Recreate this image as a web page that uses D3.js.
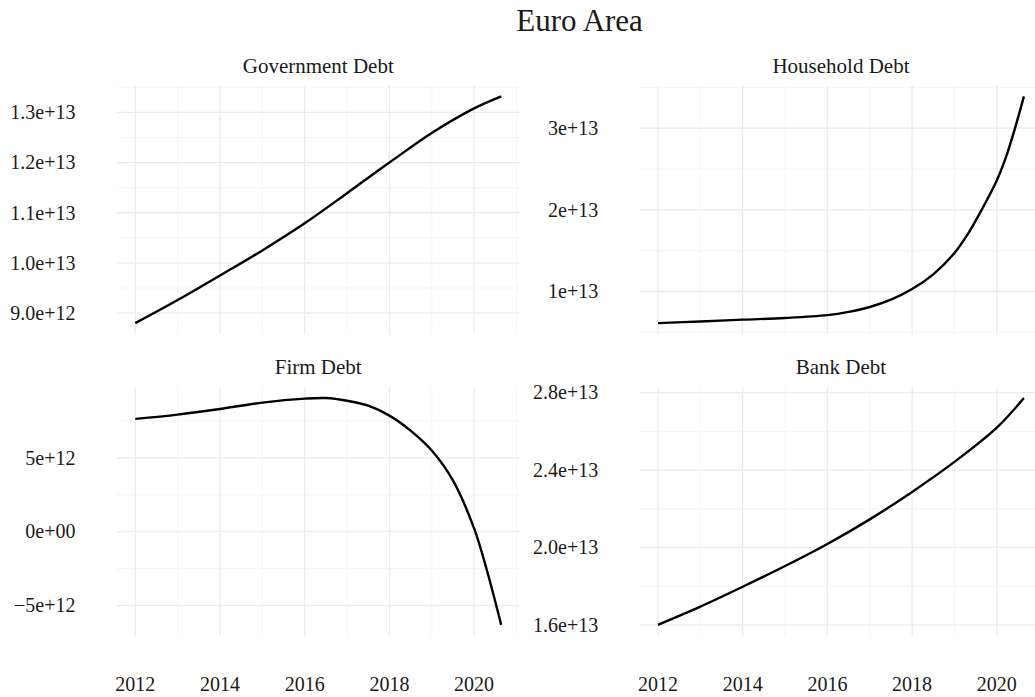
<!DOCTYPE html>
<html>
<head>
<meta charset="utf-8">
<script src="https://cdn.jsdelivr.net/npm/d3@7"></script>
<style>
  body { margin: 0; background: #fff; }
  svg { display: block; overflow: hidden; }
  text { font-family: "Palatino Linotype", Palatino, "Liberation Serif", serif; fill: #1a1a1a; }
</style>
</head>
<body>
<div id="chart"></div>
<script>
const WIDTH = 1035
const HEIGHT = 697

// values (x in years, y in units of debt)
const govYears = [2012, 2013, 2014, 2015, 2016, 2017, 2018, 2019, 2020, 2020.64]
const govValues = [8.80e12, 9.26e12, 9.75e12, 10.25e12, 10.79e12, 11.39e12, 12.00e12, 12.59e12, 13.08e12, 13.32e12]

const houseYears = [2012, 2013, 2014, 2015, 2016, 2016.5, 2017, 2017.5, 2018, 2018.5, 2019, 2019.3, 2019.6, 2020, 2020.2, 2020.43, 2020.64]
const houseValues = [6.12e12, 6.33e12, 6.55e12, 6.75e12, 7.1e12, 7.5e12, 8.1e12, 9.0e12, 10.3e12, 12.1e12, 14.7e12, 16.9e12, 19.6e12, 23.6e12, 26.2e12, 30.0e12, 33.9e12]

const firmYears = [2012, 2013, 2014, 2015, 2016, 2016.5, 2017, 2017.5, 2018, 2018.5, 2019, 2019.5, 2020, 2020.3, 2020.64]
const firmValues = [7.63e12, 7.92e12, 8.30e12, 8.73e12, 9.00e12, 9.04e12, 8.86e12, 8.52e12, 7.85e12, 6.84e12, 5.49e12, 3.47e12, 0.22e12, -2.59e12, -6.30e12]

const bankYears = [2012, 2013, 2014, 2015, 2016, 2017, 2018, 2019, 2020, 2020.64]
const bankValues = [1.600e13, 1.694e13, 1.797e13, 1.904e13, 2.018e13, 2.145e13, 2.287e13, 2.442e13, 2.619e13, 2.772e13]

const xTicks = [2012, 2014, 2016, 2018, 2020]

const govTicks = [9e12, 1e13, 1.1e13, 1.2e13, 1.3e13]
const govLabels = ["9.0e+12", "1.0e+13", "1.1e+13", "1.2e+13", "1.3e+13"]
const houseTicks = [1e13, 2e13, 3e13]
const houseLabels = ["1e+13", "2e+13", "3e+13"]
const firmTicks = [-5e12, 0, 5e12]
const firmLabels = ["\u22125e+12", "0e+00", "5e+12"]
const bankTicks = [1.6e13, 2.0e13, 2.4e13, 2.8e13]
const bankLabels = ["1.6e+13", "2.0e+13", "2.4e+13", "2.8e+13"]

const PANEL_W = 402.5
const PANEL_H = 249.5
const COLS = [117, 639.7]
const ROWS = [85, 386.7]

const panels = [
  { title: "Government Debt", years: govYears, values: govValues, ticks: govTicks, labels: govLabels, col: 0, row: 0 },
  { title: "Household Debt", years: houseYears, values: houseValues, ticks: houseTicks, labels: houseLabels, col: 1, row: 0 },
  { title: "Firm Debt", years: firmYears, values: firmValues, ticks: firmTicks, labels: firmLabels, col: 0, row: 1 },
  { title: "Bank Debt", years: bankYears, values: bankValues, ticks: bankTicks, labels: bankLabels, col: 1, row: 1 }
]

const svg = d3.select("#chart")
              .append("svg")
              .attr("width", WIDTH)
              .attr("height", HEIGHT)

svg.append("text")
   .attr("x", (COLS[0] + COLS[1] + PANEL_W) / 2)
   .attr("y", 30.5)
   .attr("text-anchor", "middle")
   .style("font-size", "31px")
   .text("Euro Area")

// ggplot style 5% expansion
function expand(extent) {
  const pad = (extent[1] - extent[0]) * 0.05
  return [extent[0] - pad, extent[1] + pad]
}

// minor breaks halfway between majors, one step past each end
function minorBreaks(ticks, domain) {
  const step = ticks[1] - ticks[0]
  const out = []
  for (let i = -1; i < ticks.length; i++) {
    out.push(ticks[0] + (i + 0.5) * step)
  }
  return out.filter(v => v >= domain[0] && v <= domain[1])
}

function drawPanel(p) {
  const left = COLS[p.col]
  const top = ROWS[p.row]
  const g = svg.append("g").attr("transform", `translate(${left}, ${top})`)

  const x = d3.scaleLinear()
              .domain(expand(d3.extent(p.years)))
              .range([0, PANEL_W])
  const y = d3.scaleLinear()
              .domain(expand(d3.extent(p.values)))
              .range([PANEL_H, 0])

  const xMinor = minorBreaks(xTicks, x.domain())
  const yMinor = minorBreaks(p.ticks, y.domain())

  g.selectAll(".xminor").data(xMinor).join("line")
   .attr("x1", d => x(d)).attr("x2", d => x(d))
   .attr("y1", 0).attr("y2", PANEL_H)
   .attr("stroke", "#f2f2f2").attr("stroke-width", 0.8)
  g.selectAll(".yminor").data(yMinor).join("line")
   .attr("x1", 0).attr("x2", PANEL_W)
   .attr("y1", d => y(d)).attr("y2", d => y(d))
   .attr("stroke", "#f2f2f2").attr("stroke-width", 0.8)

  g.selectAll(".xmajor").data(xTicks).join("line")
   .attr("x1", d => x(d)).attr("x2", d => x(d))
   .attr("y1", 0).attr("y2", PANEL_H)
   .attr("stroke", "#ebebeb").attr("stroke-width", 1.3)
  g.selectAll(".ymajor").data(p.ticks).join("line")
   .attr("x1", 0).attr("x2", PANEL_W)
   .attr("y1", d => y(d)).attr("y2", d => y(d))
   .attr("stroke", "#ebebeb").attr("stroke-width", 1.3)

  g.selectAll(".ylab").data(p.ticks).join("text")
   .attr("x", -41.5)
   .attr("y", d => y(d))
   .attr("dy", "0.34em")
   .attr("text-anchor", "end")
   .style("font-size", "20px")
   .text((d, i) => p.labels[i])

  if (p.row === 1) {
    g.selectAll(".xlab").data(xTicks).join("text")
     .attr("x", d => x(d))
     .attr("y", 691.5 - top)
     .attr("text-anchor", "middle")
     .style("font-size", "20px")
     .text(d => d)
  }

  g.append("text")
   .attr("x", PANEL_W / 2)
   .attr("y", -12.5)
   .attr("text-anchor", "middle")
   .style("font-size", "21px")
   .text(p.title)

  const line = d3.line()
                 .x(d => x(d[0]))
                 .y(d => y(d[1]))
                 .curve(d3.curveCatmullRom.alpha(0.5))

  g.append("path")
   .datum(d3.zip(p.years, p.values))
   .attr("fill", "none")
   .attr("stroke", "#000")
   .attr("stroke-width", 2.4)
   .attr("d", line)
}

panels.forEach(drawPanel)
</script>
</body>
</html>
